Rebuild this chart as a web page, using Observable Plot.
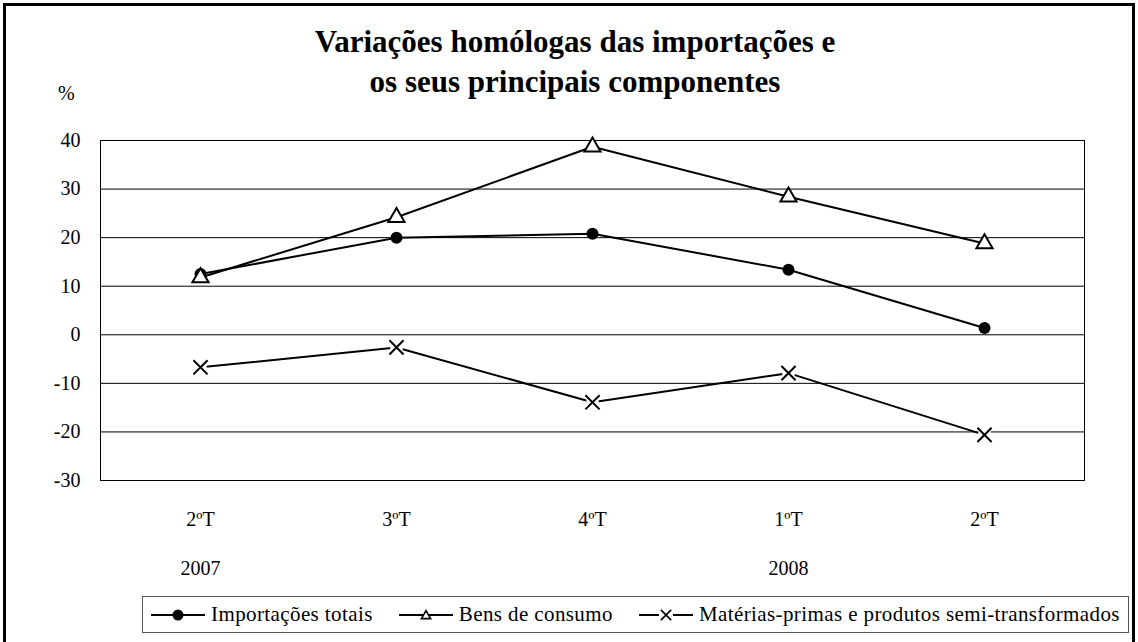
<!DOCTYPE html>
<html><head><meta charset="utf-8">
<script src="https://cdn.jsdelivr.net/npm/d3@7"></script>
<script src="https://cdn.jsdelivr.net/npm/@observablehq/plot@0.6"></script>
<style>
body{margin:0;background:#fff;}
#wrap{position:relative;width:1138px;height:642px;overflow:hidden;font-family:"Liberation Serif","Times New Roman",serif;color:#000;background:#fff;}
#border{position:absolute;left:3px;top:3px;width:1126px;height:680px;border:3px solid #000;}
#title{position:absolute;left:0;top:22px;width:1150px;text-align:center;font-weight:bold;font-size:31px;line-height:40px;}
#unit{position:absolute;left:58px;top:83px;font-size:20px;line-height:20px;}
#chart{position:absolute;left:0;top:100px;}
#chart svg text{font-family:"Liberation Serif","Times New Roman",serif;}
#legend{position:absolute;left:142px;top:596px;width:985px;height:35px;border:1px solid #555;display:flex;align-items:center;font-size:21px;letter-spacing:0.4px;white-space:nowrap;}
.item{display:flex;align-items:center;margin-right:26px;}
.item:last-child{margin-right:0;}
.item svg{margin-right:6px;}
</style>
</head><body>
<div id="wrap">
  <div id="border"></div>
  <div id="title">Variações homólogas das importações e<br>os seus principais componentes</div>
  <div id="unit">%</div>
  <div id="chart"></div>
  <div id="legend"></div>
</div>
<script>
const quarters = ["2ºT","3ºT","4ºT","1ºT","2ºT"];
const years = ["2007","","","2008",""];
const yTicks = [-30,-20,-10,0,10,20,30,40];
const seriesNames = ["Importações totais","Bens de consumo","Matérias-primas e produtos semi-transformados"];
const importacoesTotais = [12.5, 20.0, 20.8, 13.4, 1.4];
const bensConsumo = [11.8, 24.2, 38.7, 28.4, 18.8];
const materiasPrimas = [-6.7, -2.6, -13.9, -7.9, -20.6];

const rows = [];
[importacoesTotais, bensConsumo, materiasPrimas].forEach((vals, s) => {
  vals.forEach((v, i) => rows.push({s: seriesNames[s], i, v}));
});
const bySeries = name => rows.filter(d => d.s === name);
const serif = "'Liberation Serif', 'Times New Roman', serif";

const chart = Plot.plot({
  width: 1138, height: 490,
  marginLeft: 100, marginRight: 54, marginTop: 40, marginBottom: 110,
  style: {fontFamily: serif, fontSize: "20px", color: "#000", background: "transparent", overflow: "visible"},
  x: {type: "point", domain: d3.range(quarters.length), padding: 0.5, label: null},
  y: {domain: [-30, 40], label: null},
  marks: [
    Plot.ruleY(yTicks, {stroke: "#000", strokeWidth: 1}),
    Plot.frame({stroke: "#000", strokeWidth: 1}),
    Plot.line(rows, {x: "i", y: "v", z: "s", stroke: "#000", strokeWidth: 2}),
    Plot.dot(bySeries(seriesNames[2]), {x: "i", y: "v", symbol: "square", r: 7, fill: "#fff", stroke: "none"}),
    Plot.dot(bySeries(seriesNames[2]), {x: "i", y: "v", symbol: "times", r: 6.5, stroke: "#000", strokeWidth: 2}),
    Plot.dot(bySeries(seriesNames[0]), {x: "i", y: "v", symbol: "circle", r: 6, fill: "#000", stroke: "none"}),
    Plot.dot(bySeries(seriesNames[1]), {x: "i", y: "v", symbol: "triangle", r: 6, fill: "#fff", stroke: "#000", strokeWidth: 2}),
    Plot.axisY({ticks: yTicks, tickSize: 0, tickPadding: 20, fontFamily: serif, fontSize: 20, fill: "#000", tickFormat: d => String(d), label: null}),
    Plot.axisX({tickSize: 0, tickPadding: 31, fontFamily: serif, fontSize: 20, fill: "#000", tickFormat: i => quarters[i], label: null}),
    Plot.text(years, {x: (d, i) => i, frameAnchor: "bottom", dy: 94, text: d => d, fontSize: 20, fontFamily: serif, fill: "#000"})
  ]
});
document.getElementById("chart").appendChild(chart);

// legend
const legend = d3.select("#legend");
const symbols = ["circle", "triangle", "times"];
seriesNames.forEach((name, k) => {
  const item = legend.append("div").attr("class", "item");
  const svg = item.append("svg").attr("width", 54).attr("height", 20);
  svg.append("line").attr("x1", 0).attr("x2", 54).attr("y1", 10).attr("y2", 10).attr("stroke", "#000").attr("stroke-width", 2);
  if (symbols[k] === "circle") {
    svg.append("circle").attr("cx", 27).attr("cy", 10).attr("r", 5.5).attr("fill", "#000");
  } else if (symbols[k] === "triangle") {
    svg.append("path").attr("d", d3.symbol(d3.symbolTriangle2, 60)()).attr("transform", "translate(27,11)").attr("fill", "#fff").attr("stroke", "#000").attr("stroke-width", 1.6);
  } else {
    svg.append("rect").attr("x", 20).attr("y", 3).attr("width", 14).attr("height", 14).attr("fill", "#fff");
    svg.append("path").attr("d", d3.symbol(d3.symbolTimes, 70)()).attr("transform", "translate(27,10)").attr("fill", "none").attr("stroke", "#000").attr("stroke-width", 1.6);
  }
  item.append("span").text(name);
});
legend.select(".item").style("margin-left", "8px");
</script>
</body></html>
